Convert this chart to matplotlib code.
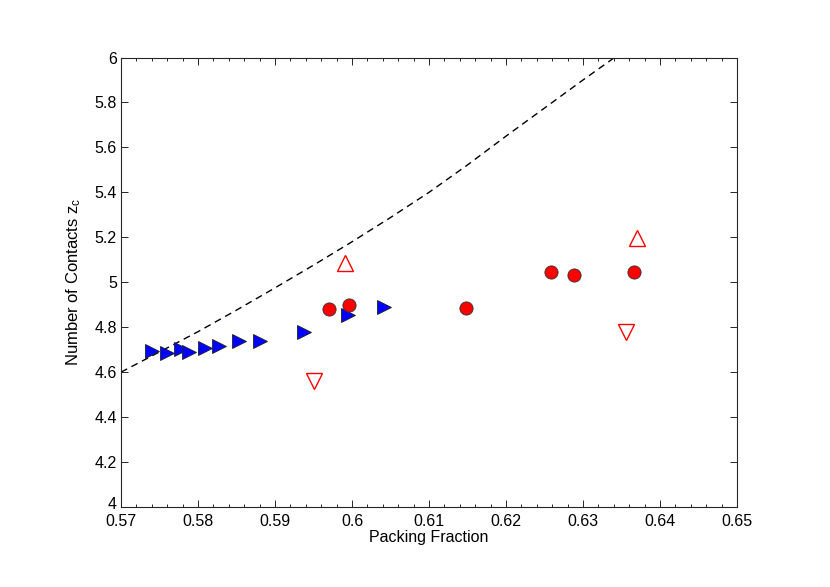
import matplotlib
matplotlib.use("Agg")
import matplotlib.pyplot as plt
from matplotlib.ticker import MultipleLocator
from matplotlib.transforms import ScaledTranslation

plt.rcParams['font.family'] = ['Liberation Sans', 'DejaVu Sans']
plt.rcParams['mathtext.fontset'] = 'custom'
plt.rcParams['mathtext.rm'] = 'Liberation Sans'
plt.rcParams['mathtext.it'] = 'Liberation Sans'

# Blue right-pointing triangles
blue_x = [0.5740, 0.5760, 0.5778, 0.5788, 0.5809, 0.5827, 0.5853, 0.5881, 0.5938, 0.5995, 0.6042]
blue_y = [4.693, 4.684, 4.702, 4.689, 4.707, 4.716, 4.738, 4.738, 4.778, 4.853, 4.889]

# Red filled circles
red_x = [0.5970, 0.5996, 0.6148, 0.6258, 0.6288, 0.6366]
red_y = [4.880, 4.898, 4.884, 5.044, 5.031, 5.044]

# Upper / lower bounds (open triangles)
up_x = [0.5991, 0.6370]
up_y = [5.084, 5.196]
down_x = [0.5951, 0.6356]
down_y = [4.560, 4.778]

# Dashed curve
curve_x = [0.570, 0.575, 0.580, 0.585, 0.590, 0.595, 0.600, 0.605, 0.610, 0.615, 0.620, 0.625, 0.630, 0.6341]
curve_y = [4.600, 4.690, 4.780, 4.876, 4.975, 5.076, 5.180, 5.288, 5.400, 5.522, 5.650, 5.775, 5.900, 6.000]

fig = plt.figure(figsize=(8.3, 5.87), dpi=100)
ax = fig.add_axes([121/830, 1 - 507/587, (737 - 121)/830, (507 - 57.5)/587])

ax.plot(curve_x, curve_y, color='black', linestyle=(0, (5, 3.5)), linewidth=1.0)
ax.plot(blue_x, blue_y, linestyle='none', marker='>', markersize=10,
        markerfacecolor='#0000ff', markeredgecolor='#202020', markeredgewidth=0.6)
ax.plot(red_x, red_y, linestyle='none', marker='o', markersize=9.5,
        markerfacecolor='#ff0000', markeredgecolor='#303030', markeredgewidth=0.6)
ax.plot(up_x, up_y, linestyle='none', marker='^', markersize=11.5,
        markerfacecolor='none', markeredgecolor='#ff0000', markeredgewidth=1.0)
ax.plot(down_x, down_y, linestyle='none', marker='v', markersize=11.5,
        markerfacecolor='none', markeredgecolor='#ff0000', markeredgewidth=1.0)

ax.set_xlim(0.57, 0.65)
ax.set_ylim(4, 6)
ax.xaxis.set_minor_locator(MultipleLocator(0.002))

xt = [0.57, 0.58, 0.59, 0.6, 0.61, 0.62, 0.63, 0.64, 0.65]
ax.set_xticks(xt)
ax.set_xticklabels(['0.57', '0.58', '0.59', '0.6', '0.61', '0.62', '0.63', '0.64', '0.65'])
yt = [4, 4.2, 4.4, 4.6, 4.8, 5, 5.2, 5.4, 5.6, 5.8, 6]
ax.set_yticks(yt)
ax.set_yticklabels(['4', '4.2', '4.4', '4.6', '4.8', '5', '5.2', '5.4', '5.6', '5.8', '6'])

for s in ax.spines.values():
    s.set_color('#262626')
    s.set_linewidth(0.8)
ax.tick_params(which='both', direction='in', top=True, right=True, color='#262626',
               labelsize=11.5, width=0.7)
ax.tick_params(which='major', length=5)
ax.tick_params(axis='x', which='major', pad=5)
ax.tick_params(axis='y', which='major', pad=3)
ax.tick_params(which='minor', length=2.5)

# nudge the bottom y label slightly up so it does not collide with "0.57"
lbl0 = ax.get_yticklabels()[0]
lbl0.set_transform(lbl0.get_transform() + ScaledTranslation(0, 3/72, fig.dpi_scale_trans))

ax.set_xlabel('Packing Fraction', fontsize=11.5, labelpad=1)
ax.set_ylabel(r'Number of Contacts z$_\mathregular{c}$', fontsize=12, labelpad=8)

fig.savefig('out.png', dpi=100, facecolor='white')
